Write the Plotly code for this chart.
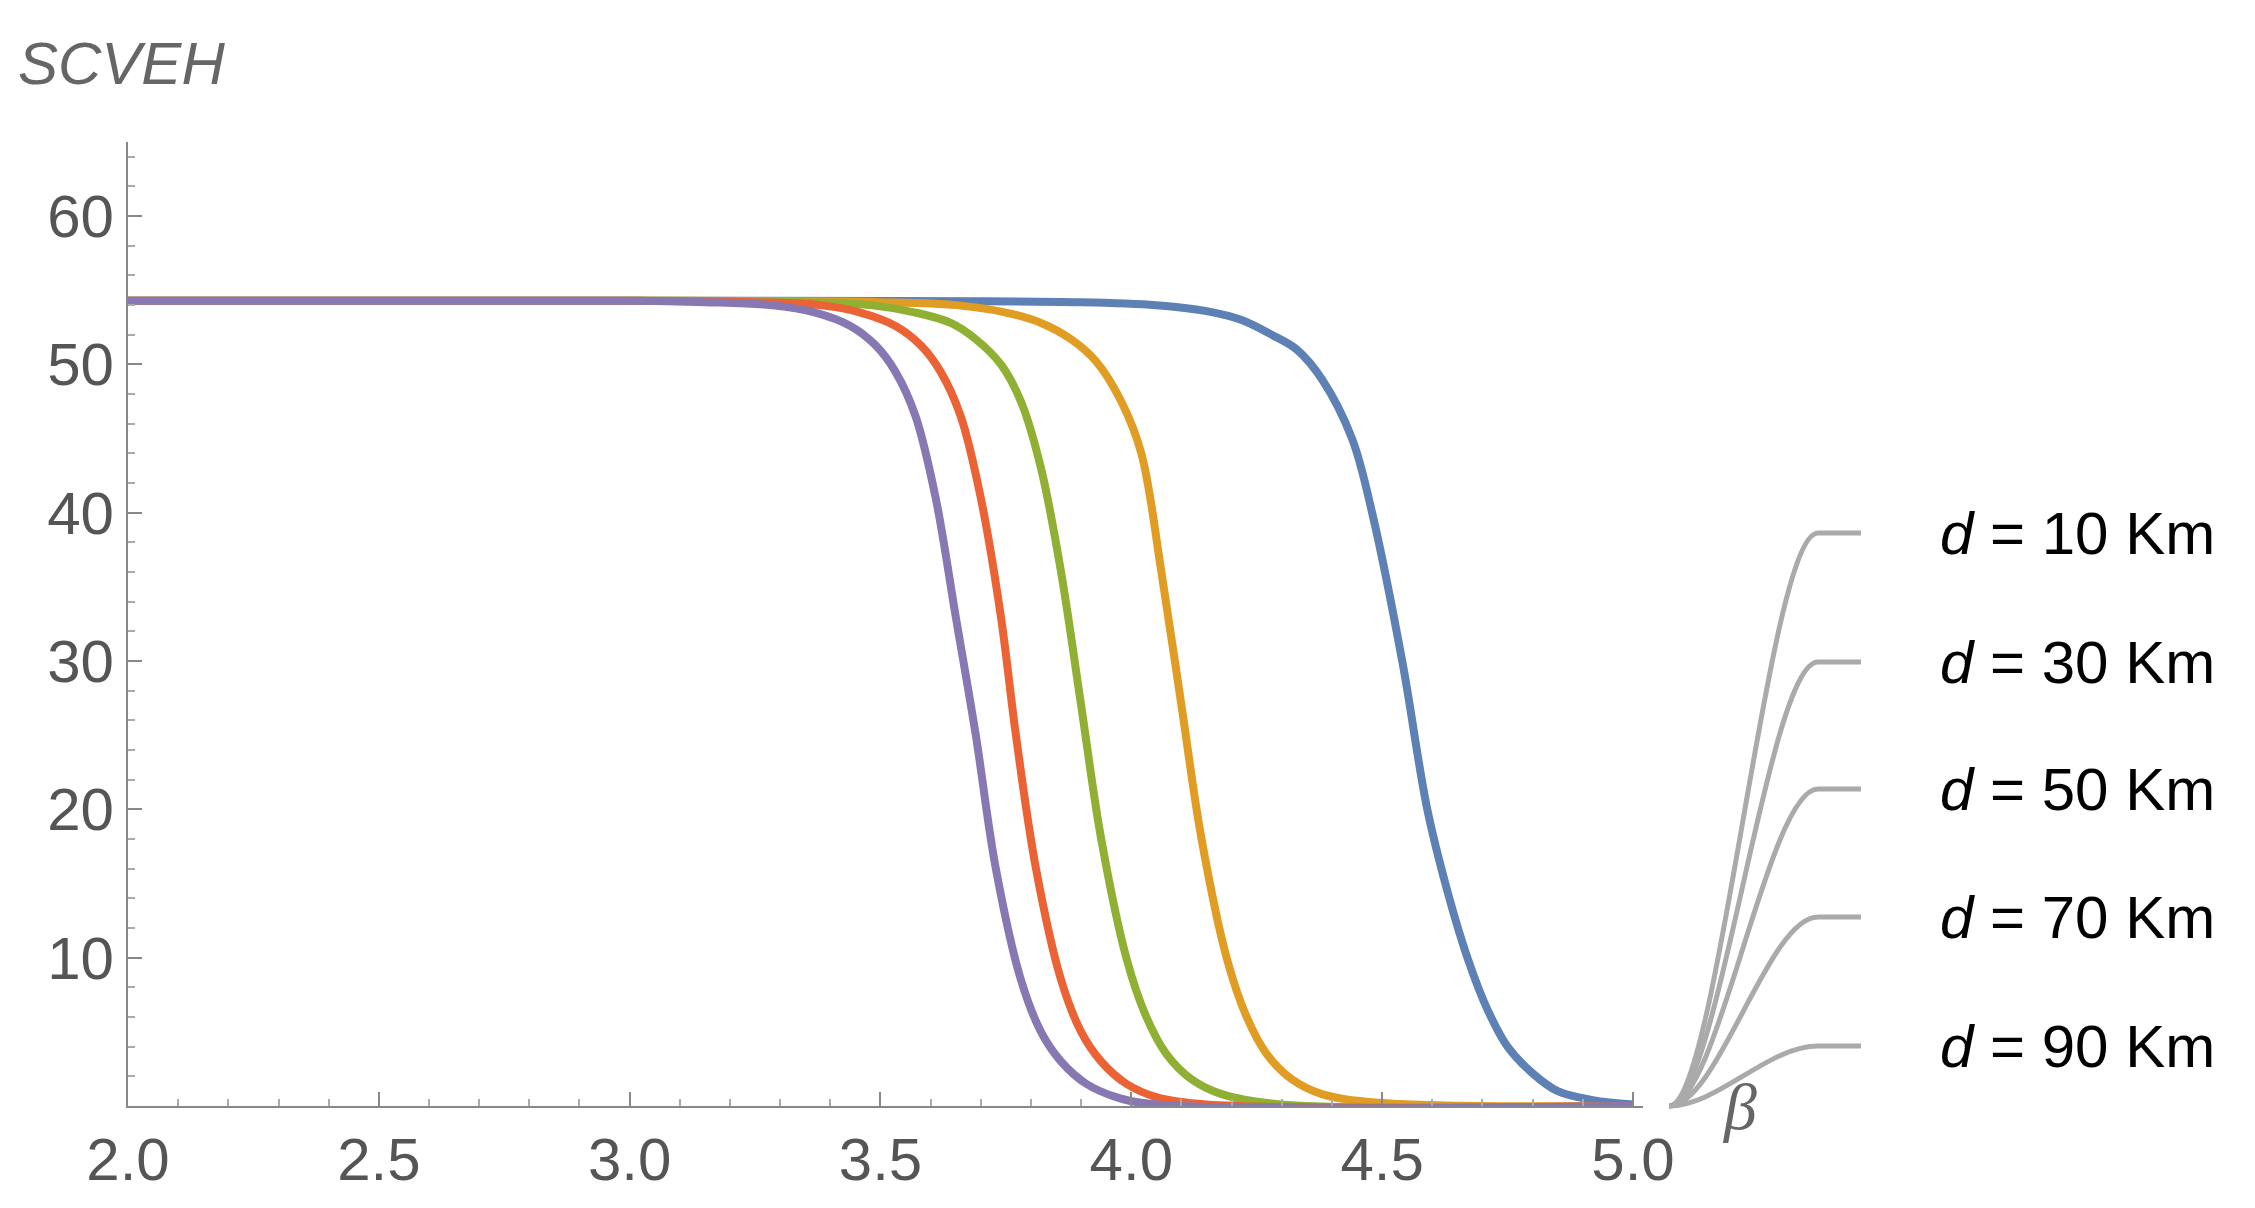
import plotly.graph_objects as go

names = ["d = 10 Km", "d = 30 Km", "d = 50 Km", "d = 70 Km", "d = 90 Km"]
colors = ["#5E81B5", "#E19C24", "#8FB032", "#EB6235", "#8778B3"]

x_d10 = [2.0, 3.0, 3.9, 4.05, 4.15, 4.22, 4.28, 4.33, 4.38, 4.44, 4.48, 4.54, 4.59, 4.63, 4.67, 4.71, 4.75, 4.8, 4.85, 4.92, 5.0]
y_d10 = [54.3, 54.3, 54.2, 54.0, 53.6, 53.0, 52.0, 51.0, 49.0, 45, 40, 30, 20, 14.5, 10, 6.5, 4, 2.2, 1, 0.4, 0.1]
x_d30 = [2.0, 3.0, 3.5, 3.65, 3.75, 3.82, 3.88, 3.93, 3.98, 4.02, 4.06, 4.1, 4.14, 4.19, 4.23, 4.27, 4.32, 4.38, 4.5, 5.0]
y_d30 = [54.3, 54.3, 54.2, 54.0, 53.5, 52.8, 51.7, 50.2, 47.5, 44, 36, 27, 18, 10, 6, 3.5, 1.8, 0.8, 0.2, 0]
x_d50 = [2.0, 3.0, 3.35, 3.48, 3.57, 3.64, 3.69, 3.74, 3.78, 3.82, 3.86, 3.9, 3.94, 3.99, 4.03, 4.07, 4.12, 4.18, 4.3, 5.0]
y_d50 = [54.3, 54.3, 54.2, 54.0, 53.5, 52.8, 51.7, 50.0, 47.5, 43, 36, 27, 18, 10, 6, 3.5, 1.8, 0.8, 0.1, 0]
x_d70 = [2.0, 3.0, 3.25, 3.38, 3.46, 3.53, 3.58, 3.62, 3.66, 3.7, 3.74, 3.77, 3.81, 3.86, 3.9, 3.94, 3.99, 4.05, 4.15, 5.0]
y_d70 = [54.3, 54.3, 54.2, 54.0, 53.5, 52.6, 51.3, 49.5, 46.5, 41, 33, 25, 16, 8.5, 5, 3, 1.5, 0.6, 0.1, 0]
x_d90 = [2.0, 3.0, 3.15, 3.28, 3.37, 3.44, 3.49, 3.53, 3.57, 3.61, 3.65, 3.69, 3.73, 3.78, 3.82, 3.86, 3.91, 3.97, 4.05, 5.0]
y_d90 = [54.3, 54.3, 54.2, 54.0, 53.5, 52.6, 51.3, 49.5, 46.5, 41, 33, 25, 16, 8.5, 5, 3, 1.5, 0.6, 0.1, 0]

xs = [x_d10, x_d30, x_d50, x_d70, x_d90]
ys = [y_d10, y_d30, y_d50, y_d70, y_d90]

x_ticks = [2.0, 2.5, 3.0, 3.5, 4.0, 4.5, 5.0]
y_ticks = [10, 20, 30, 40, 50, 60]

fig = go.Figure()
for n, c, x, y in zip(names, colors, xs, ys):
    fig.add_trace(go.Scatter(x=x, y=y, mode="lines", name=n,
                             line=dict(color=c, width=8, shape="spline", smoothing=1.0)))

W, H = 2255, 1208
L, R, T, B = 120, 620, 134, 110
pw, ph = W - L - R, H - T - B

def px(xp, yp):
    return (xp - L) / pw, (H - B - yp) / ph

label_y = [525, 654, 781, 909, 1038]
for n, yy in zip(names, label_y):
    x0, y0 = px(1661, H - B)
    c1 = px(1710, H - B)
    c2 = px(1760, yy)
    x1, y1 = px(1810, yy)
    x2, _ = px(1853, yy)
    fig.add_shape(type="path", xref="paper", yref="paper",
                  path=f"M {x0},{y0} C {c1[0]},{c1[1]} {c2[0]},{c2[1]} {x1},{y1} L {x2},{y1}",
                  line=dict(color="#AAAAAA", width=5))
    ax, ay = px(1930, yy)
    fig.add_annotation(xref="paper", yref="paper", x=ax, y=ay, xanchor="left", yanchor="middle",
                       text="<i>d</i> = " + n.split("= ")[1], showarrow=False,
                       font=dict(size=60, color="black", family="Arial, Liberation Sans"))

fig.add_annotation(xref="paper", yref="paper", x=px(8, 0)[0], y=px(0, 55)[1],
                   xanchor="left", yanchor="middle", text="<i>SCVEH</i>", showarrow=False,
                   font=dict(size=60, color="#666666", family="Arial, Liberation Sans"))
fig.add_annotation(xref="paper", yref="paper", x=px(1712, 0)[0], y=px(0, H - B)[1],
                   xanchor="left", yanchor="middle", text="<i>β</i>", showarrow=False,
                   font=dict(size=66, color="#666666", family="Times New Roman, Liberation Serif"))

axfont = dict(size=60, color="#555555", family="Arial, Liberation Sans")
fig.update_layout(
    width=W, height=H, showlegend=False,
    plot_bgcolor="white", paper_bgcolor="white",
    margin=dict(l=L, r=R, t=T, b=B),
    xaxis=dict(range=[2, 5.02], tickvals=x_ticks, ticktext=[f"{v:.1f}" for v in x_ticks],
               showgrid=False, zeroline=False, showline=True, linecolor="#888888", linewidth=2,
               ticks="inside", ticklen=14, tickcolor="#888888", tickwidth=2, tickfont=axfont,
               minor=dict(dtick=0.1, ticks="inside", ticklen=7, tickcolor="#AAAAAA", tickwidth=1.5)),
    yaxis=dict(range=[0, 65], tickvals=y_ticks, showgrid=False, zeroline=False,
               showline=True, linecolor="#888888", linewidth=2,
               ticks="inside", ticklen=14, tickcolor="#888888", tickwidth=2, tickfont=axfont,
               minor=dict(dtick=2, ticks="inside", ticklen=7, tickcolor="#AAAAAA", tickwidth=1.5)),
)
fig.write_html("out.html")
